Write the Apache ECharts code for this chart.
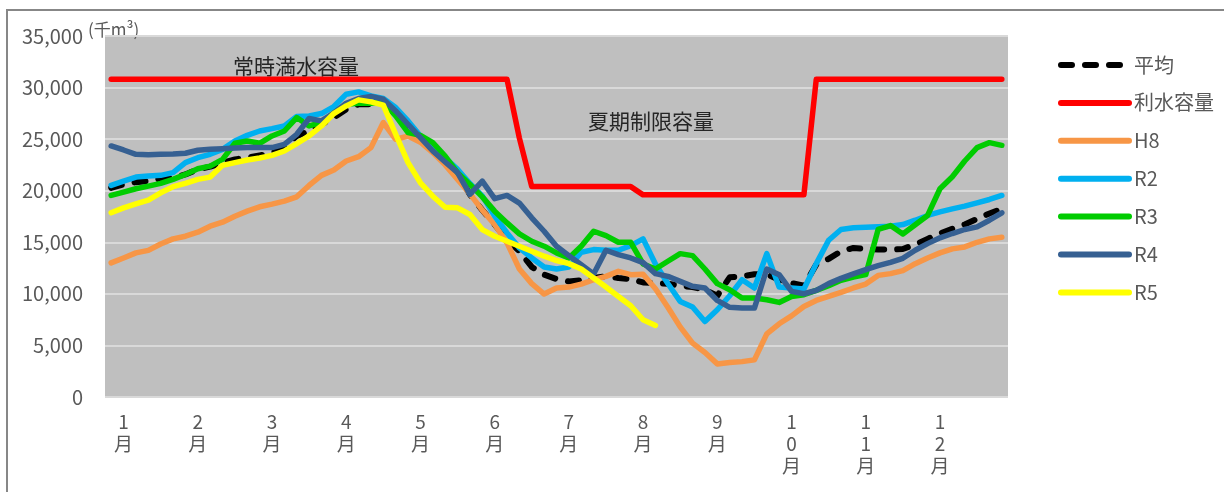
<!DOCTYPE html>
<html>
<head>
<meta charset="utf-8">
<script src="https://cdn.jsdelivr.net/npm/echarts@6/dist/echarts.min.js"></script>
<style>
  html, body { margin: 0; padding: 0; background: #fff; }
  #chart { width: 1224px; height: 492px; }
</style>
</head>
<body>
<div id="chart"></div>
<script>
  // 5日ごと 73点 (1月〜12月)
  const monthLabels = ['1月', '2月', '3月', '4月', '5月', '6月', '7月', '8月', '9月', '10月', '11月', '12月']
  const categories = []
  for (let i = 0; i < 73; i++) {
    categories.push((i - 1) % 6 === 0 ? monthLabels[(i - 1) / 6] : '')
  }

  const yTicks = [0, 5000, 10000, 15000, 20000, 25000, 30000, 35000]

  const avgData = [
    20280, 20610, 20830, 20930, 21160, 21260, 21580, 22070, 22330, 22720,
    23040, 23200, 23430, 23630, 24340, 25310, 25790, 26440, 27090, 27900,
    28390, 28390, 28550, 27250, 26300, 25100, 23800, 22800, 21700, 19640,
    18120, 16720, 15260, 14130, 12610, 11860, 11440, 11210, 11310, 11540,
    11700, 11540, 11440, 11110, 11050, 10990, 10790, 10660, 10400, 9820,
    11600, 11700, 11900, 11900, 11370, 11050, 10790, 12830, 13390, 14130,
    14450, 14350, 14290, 14290, 14350, 14780, 15330, 15850, 16300, 16720,
    17270, 17790, 18240
  ]
  const capacityData = [
    30800, 30800, 30800, 30800, 30800, 30800, 30800, 30800, 30800, 30800,
    30800, 30800, 30800, 30800, 30800, 30800, 30800, 30800, 30800, 30800,
    30800, 30800, 30800, 30800, 30800, 30800, 30800, 30800, 30800, 30800,
    30800, 30800, 30800, 25100, 20400, 20400, 20400, 20400, 20400, 20400,
    20400, 20400, 20400, 19600, 19600, 19600, 19600, 19600, 19600, 19600,
    19600, 19600, 19600, 19600, 19600, 19600, 19600, 30800, 30800, 30800,
    30800, 30800, 30800, 30800, 30800, 30800, 30800, 30800, 30800, 30800,
    30800, 30800, 30800
  ]
  const h8Data = [
    13000, 13480, 13970, 14220, 14840, 15330, 15590, 15980, 16560, 16950,
    17530, 18020, 18440, 18700, 18990, 19410, 20510, 21490, 22000, 22880,
    23300, 24180, 26610, 24990, 25300, 24700, 23700, 22500, 21100, 19700,
    18120, 16720, 14940, 12410, 10990, 9980, 10570, 10660, 10950, 11370,
    11700, 12180, 11860, 11900, 10500, 8700, 6800, 5220, 4310, 3210,
    3340, 3430, 3600, 6120, 7100, 7870, 8780, 9360, 9750, 10140,
    10570, 10950, 11790, 11960, 12250, 12930, 13480, 13970, 14360, 14550,
    15000, 15330, 15490
  ]
  const r2Data = [
    20510, 20930, 21320, 21420, 21490, 21750, 22720, 23200, 23530, 24010,
    24820, 25370, 25790, 26020, 26280, 27190, 27250, 27480, 28160, 29360,
    29580, 29200, 28940, 28060, 26770, 25310, 24180, 23200, 22070, 20700,
    19500, 17530, 15910, 14450, 13480, 12610, 12410, 12610, 14030, 14290,
    14230, 14230, 14680, 15330, 12900, 11000, 9270, 8720, 7320, 8460,
    9820, 11370, 10570, 13900, 10660, 10570, 10470, 12930, 15200, 16240,
    16400, 16460, 16500, 16560, 16720, 17140, 17600, 17950, 18240, 18500,
    18830, 19150, 19540
  ]
  const r3Data = [
    19540, 19860, 20190, 20450, 20710, 21100, 21580, 22130, 22390, 23040,
    24600, 24820, 24600, 25310, 25790, 27090, 26280, 26610, 27540, 28390,
    28480, 28480, 28610, 27250, 25640, 25370, 24660, 23360, 21750, 20610,
    19400, 18020, 16880, 15820, 15100, 14620, 13970, 13480, 14620, 16070,
    15650, 15000, 15000, 12900, 12410, 13160, 13900, 13710, 12410, 10990,
    10400, 9590, 9590, 9430, 9170, 9750, 9920, 10340, 10790, 11310,
    11630, 11860, 16240, 16620, 15800, 16700, 17600, 20190, 21360, 22880,
    24180, 24660, 24400
  ]
  const r4Data = [
    24340, 23950, 23530, 23490, 23530, 23560, 23630, 23920, 24010, 24080,
    24140, 24180, 24180, 24180, 24500, 25470, 27000, 26770, 27540, 28480,
    28940, 29140, 28870, 27740, 26440, 25150, 23850, 22780, 21750, 19640,
    20930, 19230, 19540, 18800, 17370, 16070, 14620, 13710, 12830, 11930,
    14230, 13810, 13480, 13030, 11960, 11700, 11210, 10730, 10570, 9360,
    8690, 8620, 8620, 12410, 11860, 10240, 10010, 10340, 10990, 11500,
    11930, 12350, 12740, 13060, 13450, 14230, 14870, 15430, 15850, 16240,
    16500, 17140, 17860
  ]
  const r5Data = [
    17860, 18340, 18730, 19090, 19800, 20390, 20710, 21100, 21320, 22460,
    22720, 22980, 23170, 23430, 23850, 24570, 25310, 26280, 27480, 28220,
    28810, 28610, 28300, 25470, 22720, 20770, 19470, 18400, 18340, 17690,
    16230, 15590, 15100, 14620, 14130, 13650, 13230, 12930, 12410, 11540,
    10660, 9750, 8850, 7490, 6940
  ]

  const seriesNames = ['平均', '利水容量', 'H8', 'R2', 'R3', 'R4', 'R5']
  const seriesColors = ['#000000', '#ff0000', '#f79646', '#00b0f0', '#00cc00', '#366092', '#ffff00']
  const seriesValues = [avgData, capacityData, h8Data, r2Data, r3Data, r4Data, r5Data]

  const font = '"Noto Sans CJK JP", "Noto Sans", sans-serif'
  const chart = echarts.init(document.getElementById('chart'))

  chart.setOption({
    animation: false,
    textStyle: {fontFamily: font},
    grid: {
      left: 105,
      right: 216,
      top: 36,
      bottom: 95,
      containLabel: false,
      show: true,
      backgroundColor: '#bfbfbf',
      borderWidth: 0
    },
    legend: {
      orient: 'vertical',
      left: 1053,
      top: 50,
      itemWidth: 68,
      itemHeight: 14,
      itemGap: 17.9,
      data: seriesNames,
      itemStyle: {opacity: 0},
      lineStyle: {width: 6},
      textStyle: {fontSize: 20, color: '#595959', fontFamily: font}
    },
    xAxis: {
      type: 'category',
      boundaryGap: true,
      data: categories,
      axisLine: {show: false},
      axisTick: {show: false},
      splitLine: {show: false},
      axisLabel: {
        interval: 0,
        margin: 14,
        color: '#595959',
        fontSize: 19,
        lineHeight: 22,
        formatter: function (v) {
          return v.split('').join('\n')
        }
      }
    },
    yAxis: {
      type: 'value',
      min: yTicks[0],
      max: yTicks[yTicks.length - 1],
      interval: 5000,
      axisLine: {show: false},
      axisTick: {show: false},
      splitLine: {lineStyle: {color: '#d9d9d9', width: 2}},
      axisLabel: {
        margin: 22,
        color: '#595959',
        fontSize: 20,
        formatter: function (v) {
          return v.toLocaleString('en-US')
        }
      }
    },
    series: seriesNames.map(function (name, k) {
      return {
        name: name,
        type: 'line',
        data: seriesValues[k],
        symbol: 'none',
        color: seriesColors[k],
        lineStyle: {
          color: seriesColors[k],
          width: k === 0 ? 6 : 5.5,
          type: k === 0 ? [11, 13] : 'solid',
          cap: 'round',
          join: 'round'
        }
      }
    }),
    graphic: [
      {
        type: 'rect',
        shape: {x: 7, y: 10, width: 1240, height: 520},
        style: {fill: 'none', stroke: '#878787', lineWidth: 2},
        silent: true
      },
      {
        type: 'text',
        left: 88,
        top: 21,
        style: {text: '(千m³)', fontSize: 17, fill: '#595959', fontFamily: font}
      },
      {
        type: 'text',
        left: 233,
        top: 56,
        style: {text: '常時満水容量', fontSize: 21, fill: '#262626', fontFamily: font}
      },
      {
        type: 'text',
        left: 588,
        top: 111,
        style: {text: '夏期制限容量', fontSize: 21, fill: '#262626', fontFamily: font}
      }
    ]
  })
</script>
</body>
</html>
